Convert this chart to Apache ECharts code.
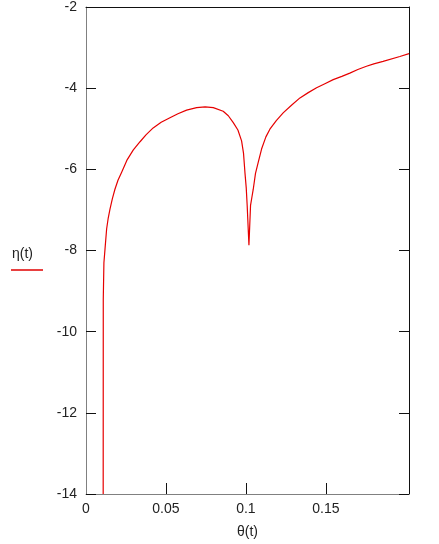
<!DOCTYPE html>
<html>
<head>
<meta charset="utf-8">
<script src="https://cdn.jsdelivr.net/npm/echarts@6/dist/echarts.min.js"></script>
<style>
  html, body { margin: 0; padding: 0; background: #fff; }
  #main { width: 439px; height: 544px; }
</style>
</head>
<body>
<div id="main"></div>
<script>
// values
var theta = [0.01075, 0.0108, 0.0112, 0.0119, 0.0129, 0.0139, 0.015, 0.0165, 0.0181, 0.02,
  0.0223, 0.0258, 0.0296, 0.0338, 0.0375, 0.042, 0.047, 0.0525, 0.0575, 0.0629,
  0.0692, 0.0745, 0.0796, 0.0858, 0.089, 0.0921, 0.095, 0.0973, 0.0985, 0.0994,
  0.1002, 0.1008, 0.1019, 0.1029, 0.1037, 0.1046, 0.106, 0.1077, 0.1098, 0.1125,
  0.115, 0.119, 0.1233, 0.1285, 0.1338, 0.139, 0.1442, 0.1494, 0.1546, 0.16,
  0.165, 0.17, 0.1754, 0.18, 0.1858, 0.1963, 0.202];
var eta = [-14, -9.2, -8.3, -7.96, -7.47, -7.2, -6.98, -6.72, -6.49, -6.27,
  -6.07, -5.76, -5.52, -5.32, -5.15, -4.98, -4.84, -4.73, -4.63, -4.54,
  -4.48, -4.46, -4.48, -4.57, -4.68, -4.85, -5.03, -5.3, -5.6, -6.08,
  -6.45, -6.89, -7.87, -6.89, -6.7, -6.49, -6.1, -5.83, -5.5, -5.2,
  -5.01, -4.8, -4.61, -4.42, -4.24, -4.11, -3.99, -3.89, -3.79, -3.71,
  -3.63, -3.54, -3.46, -3.40, -3.34, -3.22, -3.15];
var xTicks = [0.05, 0.1, 0.15];
var xLabels = [0, 0.05, 0.1, 0.15];

var font = 'Liberation Sans, Arial, sans-serif';
var chart = echarts.init(document.getElementById('main'));

var points = theta.map(function (t, i) { return [t, eta[i]]; });

var option = {
  animation: false,
  backgroundColor: '#fff',
  grid: { left: 86, right: 30, top: 7, bottom: 47 },
  xAxis: [
    {
      type: 'value', min: 0, max: 0.202, position: 'bottom',
      name: 'θ(t)', nameLocation: 'middle', nameGap: 31,
      nameTextStyle: { color: '#222', fontFamily: font, fontSize: 14 },
      axisLine: { onZero: false, lineStyle: { color: '#808080', width: 1 } },
      axisTick: { inside: true, length: 11, customValues: xTicks, lineStyle: { color: '#111' } },
      axisLabel: { customValues: xLabels, margin: 8, color: '#222', fontFamily: font, fontSize: 14 },
      splitLine: { show: false }
    },
    {
      type: 'value', min: 0, max: 0.202, position: 'top',
      axisLine: { onZero: false, lineStyle: { color: '#111', width: 1 } },
      axisTick: { show: false }, axisLabel: { show: false }, splitLine: { show: false }
    }
  ],
  yAxis: [
    {
      type: 'value', min: -14, max: -2, interval: 2, position: 'left',
      axisLine: { show: true, onZero: false, lineStyle: { color: '#808080', width: 1 } },
      axisTick: { show: true, inside: true, length: 10, lineStyle: { color: '#111' } },
      axisLabel: { margin: 9, color: '#222', fontFamily: font, fontSize: 14 },
      splitLine: { show: false }
    },
    {
      type: 'value', min: -14, max: -2, interval: 2, position: 'right',
      axisLine: { show: true, onZero: false, lineStyle: { color: '#111', width: 1 } },
      axisTick: { show: true, inside: true, length: 10, lineStyle: { color: '#111' } },
      axisLabel: { show: false }, splitLine: { show: false }
    }
  ],
  graphic: [
    { type: 'text', left: 12, top: 247,
      style: { text: 'η(t)', fill: '#222', font: '14px ' + font } },
    { type: 'line', shape: { x1: 11, y1: 270, x2: 43, y2: 270 },
      style: { stroke: '#e00000', lineWidth: 1.5 } }
  ],
  series: [
    {
      name: 'η(t)', type: 'line', data: points, showSymbol: false, symbol: 'none',
      clip: true, lineStyle: { color: '#e60000', width: 1.2 }
    }
  ]
};
chart.setOption(option);
</script>
</body>
</html>
